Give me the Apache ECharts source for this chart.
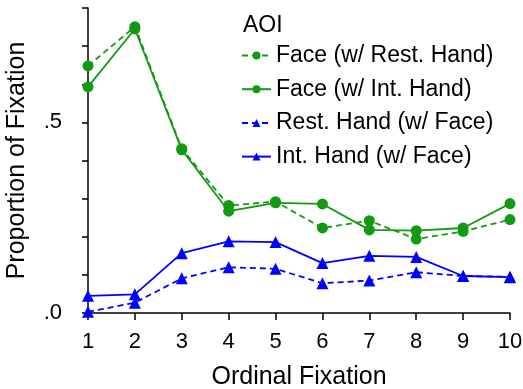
<!DOCTYPE html>
<html>
<head>
<meta charset="utf-8">
<script src="https://cdn.jsdelivr.net/npm/echarts@6/dist/echarts.min.js"></script>
<style>
  html, body { margin: 0; padding: 0; background: #fff; }
  #chart { width: 523px; height: 389px; }
</style>
</head>
<body>
<div id="chart"></div>
<script>
const fixations = [1, 2, 3, 4, 5, 6, 7, 8, 9, 10];
const faceRestHand = [0.648, 0.751, 0.431, 0.282, 0.292, 0.223, 0.242, 0.194, 0.214, 0.245];
const faceIntHand = [0.593, 0.745, 0.428, 0.267, 0.289, 0.286, 0.218, 0.216, 0.223, 0.287];
const restHandFace = [0.003, 0.027, 0.091, 0.120, 0.116, 0.078, 0.085, 0.107, 0.097, 0.095];
const intHandFace = [0.045, 0.049, 0.157, 0.188, 0.186, 0.131, 0.150, 0.147, 0.097, 0.094];
const yTickLabels = { "0": ".0", "0.5": ".5" };

const green = "#129a12";
const blue = "#0000ff";
const font = "Liberation Sans, Arial, sans-serif";

function makeSeries(name, values, color, dashed, symbol) {
  return {
    name: name,
    type: "line",
    data: fixations.map((f, i) => [f, values[i]]),
    symbol: symbol,
    symbolSize: symbol === "circle" ? 11 : 12,
    itemStyle: { color: color },
    lineStyle: { color: color, width: 1.8, type: dashed ? [6, 4] : "solid" },
    emphasis: { disabled: true },
  };
}

const chart = echarts.init(document.getElementById("chart"));
chart.setOption({
  animation: false,
  title: {
    text: "AOI",
    left: 243,
    top: 14,
    padding: 0,
    textStyle: { fontFamily: font, fontSize: 23, fontWeight: "normal", color: "#000" },
  },
  legend: {
    orient: "vertical",
    left: 241,
    top: 44,
    padding: 0,
    itemWidth: 29,
    itemHeight: 10,
    itemGap: 10.7,
    textStyle: { fontFamily: font, fontSize: 23, lineHeight: 23, color: "#000" },
    data: [
      "Face (w/ Rest. Hand)",
      "Face (w/ Int. Hand)",
      "Rest. Hand (w/ Face)",
      "Int. Hand (w/ Face)",
    ],
  },
  grid: { left: 88, right: 13, top: 8, bottom: 76, outerBoundsMode: "none" },
  xAxis: {
    type: "value",
    min: 1,
    max: 10,
    interval: 1,
    name: "Ordinal Fixation",
    nameLocation: "middle",
    nameGap: 52,
    nameTextStyle: { fontFamily: font, fontSize: 25, color: "#000" },
    axisLine: { onZero: false, lineStyle: { color: "#000", width: 1.5 } },
    axisTick: { length: 7, lineStyle: { color: "#000", width: 1.5 } },
    axisLabel: { fontFamily: font, fontSize: 22, color: "#000", margin: 18 },
    splitLine: { show: false },
  },
  yAxis: {
    type: "value",
    min: 0,
    max: 0.8,
    interval: 0.1,
    name: "Proportion of Fixation",
    nameLocation: "middle",
    nameGap: 58,
    nameTextStyle: { fontFamily: font, fontSize: 25, color: "#000" },
    axisLine: { show: true, lineStyle: { color: "#000", width: 1.5 } },
    axisTick: { show: true, length: 6, lineStyle: { color: "#000", width: 1.5 } },
    axisLabel: {
      fontFamily: font,
      fontSize: 22,
      color: "#000",
      margin: 26,
      formatter: (v) => yTickLabels[String(Math.round(v * 10) / 10)] || "",
    },
    splitLine: { show: false },
  },
  series: [
    makeSeries("Face (w/ Rest. Hand)", faceRestHand, green, true, "circle"),
    makeSeries("Face (w/ Int. Hand)", faceIntHand, green, false, "circle"),
    makeSeries("Rest. Hand (w/ Face)", restHandFace, blue, true, "triangle"),
    makeSeries("Int. Hand (w/ Face)", intHandFace, blue, false, "triangle"),
  ],
});
</script>
</body>
</html>
